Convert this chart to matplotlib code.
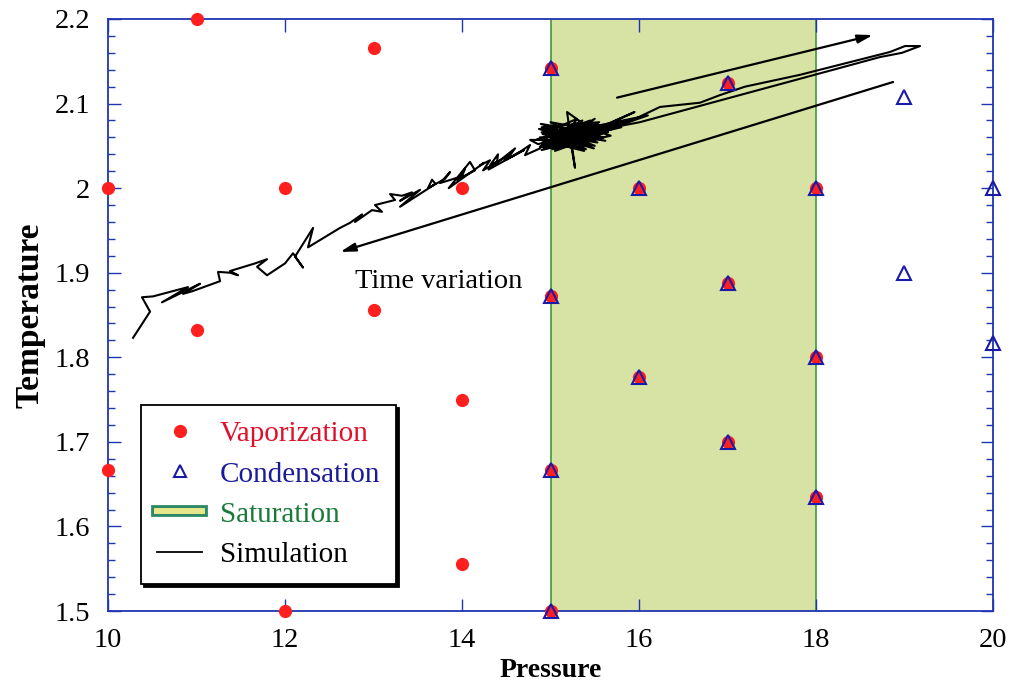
import numpy as np
import matplotlib
matplotlib.use("Agg")
import matplotlib.pyplot as plt
from matplotlib.lines import Line2D
from matplotlib.ticker import MultipleLocator, FuncFormatter
import matplotlib.patheffects as pe

plt.rcParams['font.family'] = ['Liberation Serif', 'DejaVu Serif']

# grid points (pressure, temperature)
vap_p = [11, 13, 10, 12, 14, 15, 17, 16, 18, 15, 17, 11, 13, 16, 18, 14, 10, 15, 17, 18, 14, 12, 15]
vap_t = [2.2, 2.166, 2.0, 2.0, 2.0, 2.142, 2.124, 2.0, 2.0, 1.873, 1.888, 1.832, 1.856,
         1.777, 1.8, 1.749, 1.667, 1.667, 1.7, 1.635, 1.556, 1.5, 1.5]

cond_p = [15, 15, 15, 15, 16, 16, 17, 17, 17, 18, 18, 18, 19, 19, 20, 20]
cond_t = [2.142, 1.873, 1.667, 1.5, 2.0, 1.777, 2.124, 1.888, 1.7, 2.0, 1.8, 1.635,
          2.108, 1.9, 2.0, 1.817]

sat_lo, sat_hi = 15, 18

# simulated trajectory: approach, cluster, excursion
sim_p = [10.283, 10.475, 10.384, 10.509, 10.904, 10.610, 11.040, 10.848, 10.949, 11.266,
         11.243, 11.379, 11.469, 11.379, 11.661, 11.797, 11.684, 11.797, 12.000, 12.091,
         12.204, 12.113, 12.317, 12.260, 12.622, 12.735, 12.870, 12.791, 12.983, 13.096,
         13.017, 13.243, 13.187, 13.322, 13.435, 13.300, 13.526, 13.300, 13.700, 13.661,
         13.616, 13.808, 13.865, 13.752, 14.000, 14.034, 13.944, 14.147, 14.090, 13.850,
         14.250, 14.204, 14.317, 14.238, 14.396, 14.407, 14.317, 14.543, 14.599, 14.300,
         14.700, 14.486, 14.656, 14.769, 14.712, 14.882, 14.938, 14.770,
         14.86, 15.45, 14.90, 15.50, 14.95, 15.40, 14.88, 15.52, 14.92, 15.48,
         14.98, 15.55, 14.87, 15.42, 15.00, 15.50, 14.90, 15.46, 14.94, 15.38,
         14.85, 15.56, 14.96, 15.44, 14.89, 15.53, 15.02, 15.36, 14.93, 15.58,
         15.05, 15.30, 14.91, 15.49, 15.00, 15.60, 14.88, 15.40, 15.187, 15.277,
         15.20, 15.65, 15.00, 15.45, 14.95, 15.70, 15.10, 15.55, 14.90, 15.62,
         15.05, 15.75, 15.15, 15.50, 15.02, 15.68, 15.25, 15.80, 15.30, 15.95,
         15.45, 15.85, 15.35, 16.10, 15.50, 15.90, 15.40,
         15.977, 16.237, 16.689, 16.915, 17.198, 17.820, 18.836, 19.006, 19.176, 18.972,
         18.724, 16.011, 15.560]
sim_t = [1.823, 1.854, 1.871, 1.872, 1.883, 1.865, 1.887, 1.875, 1.878, 1.890,
         1.901, 1.900, 1.897, 1.902, 1.911, 1.916, 1.907, 1.897, 1.911, 1.923,
         1.906, 1.919, 1.953, 1.930, 1.953, 1.959, 1.969, 1.960, 1.974, 1.972,
         1.980, 1.986, 1.993, 1.991, 1.995, 1.985, 1.998, 1.978, 2.005, 2.010,
         2.000, 2.011, 2.019, 2.006, 2.014, 2.023, 2.010, 2.021, 2.031, 2.000,
         2.030, 2.027, 2.033, 2.021, 2.031, 2.040, 2.027, 2.039, 2.047, 2.022,
         2.045, 2.033, 2.043, 2.051, 2.039, 2.047, 2.057, 2.057,
         2.052, 2.070, 2.066, 2.050, 2.074, 2.046, 2.060, 2.064, 2.048, 2.076,
         2.055, 2.058, 2.070, 2.052, 2.078, 2.068, 2.045, 2.060, 2.072, 2.044,
         2.058, 2.072, 2.050, 2.066, 2.076, 2.054, 2.062, 2.080, 2.053, 2.064,
         2.044, 2.082, 2.064, 2.047, 2.070, 2.060, 2.049, 2.074, 2.090, 2.024,
         2.072, 2.066, 2.058, 2.080, 2.062, 2.070, 2.050, 2.078, 2.072, 2.056,
         2.066, 2.074, 2.060, 2.082, 2.046, 2.062, 2.076, 2.072, 2.060, 2.090,
         2.066, 2.078, 2.070, 2.086, 2.064, 2.080, 2.058,
         2.083, 2.096, 2.101, 2.110, 2.120, 2.134, 2.161, 2.168, 2.168, 2.160,
         2.155, 2.078, 2.069]

# time-direction arrows: (start p, start t, end p, end t)
arrow_out = (15.752, 2.107, 18.644, 2.181)
arrow_back = (18.871, 2.1255, 12.622, 1.9245)

blue = '#2035b0'
red = '#ff1f1f'
fill_green = '#d7e3a5'
edge_green = '#3d9a3d'

fig = plt.figure(figsize=(10.17, 6.88), dpi=100)
ax = fig.add_axes([0.1062, 0.1119, 0.8702, 0.8605])

ax.axvspan(sat_lo, sat_hi, facecolor=fill_green, edgecolor='none', zorder=0)
ax.axvline(sat_lo, color=edge_green, lw=1.2, zorder=1)
ax.axvline(sat_hi, color=edge_green, lw=1.2, zorder=1)

ax.plot(sim_p, sim_t, color='black', lw=1.5, zorder=2)

ax.plot(vap_p, vap_t, 'o', color=red, ms=9.5, mec='none', zorder=4, clip_on=False)
ax.plot(cond_p, cond_t, '^', mfc='none', mec='#1a1aa8', ms=10.5, mew=1.5, zorder=5, clip_on=False)

for a in (arrow_out, arrow_back):
    ax.annotate('', xy=(a[2], a[3]), xytext=(a[0], a[1]),
                arrowprops=dict(arrowstyle='-|>,head_length=0.9,head_width=0.25',
                                color='black', lw=1.6, shrinkA=0, shrinkB=0), zorder=3)

ax.text(12.79, 1.890, 'Time variation', fontsize=20.5, va='center', ha='left')

ax.set_xlim(10, 20)
ax.set_ylim(1.5, 2.2)
ax.xaxis.set_major_locator(MultipleLocator(2))
ax.yaxis.set_major_locator(MultipleLocator(0.1))
ax.yaxis.set_minor_locator(MultipleLocator(0.02))
ax.yaxis.set_major_formatter(FuncFormatter(lambda v, pos: '%g' % round(v, 2)))
ax.tick_params(which='both', direction='in', top=True, right=True, color=blue,
               labelsize=20.5)
ax.tick_params(axis='x', pad=12)
ax.tick_params(axis='y', pad=13)
ax.tick_params(which='major', length=9, width=1.0)
ax.tick_params(which='minor', length=5, width=1.0)
for s in ax.spines.values():
    s.set_color(blue)
    s.set_linewidth(1.3)

ax.set_xlabel('Pressure', fontsize=20, fontweight='bold', labelpad=4)
ax.set_ylabel('Temperature', fontsize=24, fontweight='bold', labelpad=6)

handles = [
    Line2D([], [], ls='none', marker='o', color=red, ms=9.5, mec='none'),
    Line2D([], [], ls='none', marker='^', mfc='none', mec='#1a1aa8', ms=8.5, mew=1.5),
    Line2D([], [], color='#e6e68a', lw=4.3,
           path_effects=[pe.Stroke(linewidth=8.5, foreground='#2e8a66'), pe.Normal()]),
    Line2D([], [], color='black', lw=1.3),
]
labels = ['Vaporization', 'Condensation', 'Saturation', 'Simulation']
leg = ax.legend(handles, labels, loc='upper left', bbox_to_anchor=(0.0373, 0.348),
                fontsize=21, frameon=True, fancybox=False, framealpha=1,
                edgecolor='black', borderpad=0.55, labelspacing=0.47, handlelength=1.55,
                handletextpad=0.6, borderaxespad=0,
                shadow={'facecolor': 'black', 'edgecolor': 'black', 'alpha': 1})
leg.get_frame().set_linewidth(1.3)
text_colors = ['#e0102a', '#1a1a9a', '#1a7a3a', 'black']
for t, c in zip(leg.get_texts(), text_colors):
    t.set_color(c)

fig.savefig('out.png', dpi=100)
